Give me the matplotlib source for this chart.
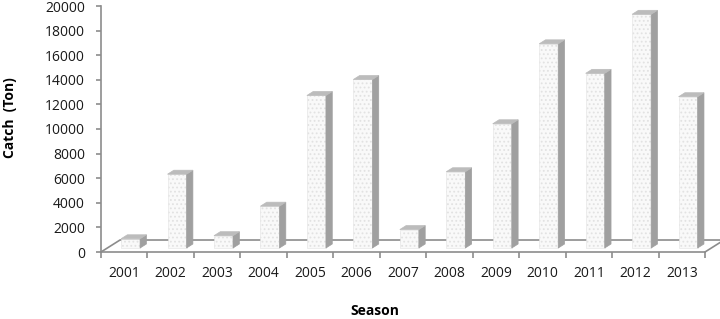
import matplotlib.pyplot as plt
from matplotlib.patches import Polygon

seasons = ['2001', '2002', '2003', '2004', '2005', '2006', '2007',
           '2008', '2009', '2010', '2011', '2012', '2013']
catch = [750, 6000, 1000, 3400, 12400, 13700, 1500,
         6200, 10100, 16600, 14200, 19000, 12300]

plt.rcParams['font.family'] = ['Open Sans', 'DejaVu Sans']
plt.rcParams['hatch.color'] = '#e2e2e2'
plt.rcParams['hatch.linewidth'] = 0.8

fig = plt.figure(figsize=(7.2, 3.19), dpi=100)
ax = fig.add_axes([101 / 720, 1 - 252 / 319, 604 / 720, 246 / 319])

# fake 3d depth of the floor, in data units
depth_x = 0.409
depth_y = 975
# bar sits in the middle third of the floor depth
bx = depth_x / 3
by = depth_y / 3
width = 0.41
axis_col = '#8c8c8c'

# floor (back edge and side edges)
ax.plot([0, depth_x, 13 + depth_x], [0, depth_y, depth_y], color=axis_col,
        lw=1.2, zorder=1, clip_on=False)
ax.plot([13, 13 + depth_x], [0, depth_y], color=axis_col, lw=1.2,
        zorder=1, clip_on=False)

for i, v in enumerate(catch):
    left = i + 0.5 + bx - width / 2
    right = left + width
    ax.bar(left, v, width=width, bottom=by, align='edge', color='#f9f9f9',
           edgecolor='#e2e2e2', hatch='....', lw=0.4, zorder=3, clip_on=False)
    top = by + v
    side = Polygon([(right, by), (right + bx, by + by), (right + bx, top + by),
                    (right, top)], closed=True, facecolor='#a0a0a0',
                   edgecolor='#a0a0a0', lw=0.5, zorder=3, clip_on=False)
    lid = Polygon([(left, top), (right, top), (right + bx, top + by),
                   (left + bx, top + by)], closed=True, facecolor='#bcbcbc',
                  edgecolor='#bcbcbc', lw=0.5, zorder=3, clip_on=False)
    ax.add_patch(side)
    ax.add_patch(lid)

ax.set_xlim(0, 13)
ax.set_ylim(0, 20000)
ax.set_yticks(range(0, 20001, 2000))
ax.set_xticks(range(0, 14))
ax.set_xticklabels([])
ax.set_xticks([i + 0.5 for i in range(13)], minor=True)
ax.set_xticklabels(seasons, minor=True)

ax.spines['top'].set_visible(False)
ax.spines['right'].set_visible(False)
for s in ['left', 'bottom']:
    ax.spines[s].set_color(axis_col)
    ax.spines[s].set_linewidth(1.2)
ax.tick_params(axis='y', length=3.5, width=1.2, color=axis_col, pad=8,
               labelsize=10, labelcolor='#1a1a1a')
ax.tick_params(axis='x', which='major', length=4, width=1.2, color=axis_col)
ax.tick_params(axis='x', which='minor', length=0, pad=10, labelsize=10,
               labelcolor='#1a1a1a')

fig.text(10 / 720, 1 - 118 / 319, 'Catch  (Ton)', rotation=90, ha='center',
         va='center', fontsize=10, fontweight='bold')
fig.text(375 / 720, 1 - 311 / 319, 'Season', ha='center', va='center',
         fontsize=10, fontweight='bold')

fig.savefig('out.png', dpi=100)
